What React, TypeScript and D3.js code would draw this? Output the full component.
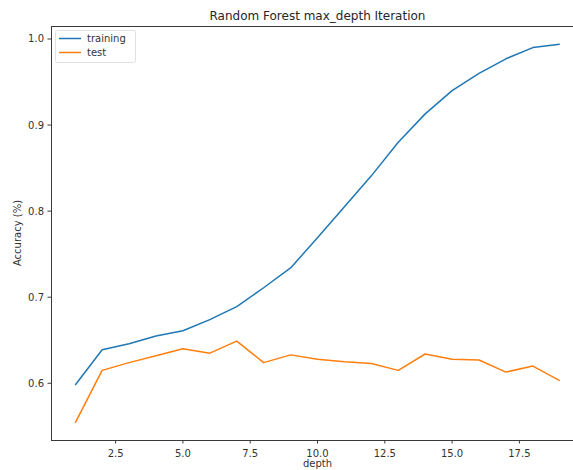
import { useEffect, useRef } from "react";
import * as d3 from "d3";

const depths = [1, 2, 3, 4, 5, 6, 7, 8, 9, 10, 11, 12, 13, 14, 15, 16, 17, 18, 19];
const training = [
  0.598, 0.639, 0.646, 0.655, 0.661, 0.674, 0.689, 0.711, 0.734, 0.769, 0.805, 0.841, 0.88,
  0.913, 0.94, 0.96, 0.977, 0.99, 0.994,
];
const test = [
  0.554, 0.615, 0.624, 0.632, 0.64, 0.635, 0.649, 0.624, 0.633, 0.628, 0.625, 0.623, 0.615,
  0.634, 0.628, 0.627, 0.613, 0.62, 0.603,
];
const xTicks = [2.5, 5.0, 7.5, 10.0, 12.5, 15.0, 17.5];
const yTicks = [0.6, 0.7, 0.8, 0.9, 1.0];
const series = [
  { name: "training", values: training, color: "#1f77b4" },
  { name: "test", values: test, color: "#ff7f0e" },
];

const W = 573;
const H = 470;
const FONT = "DejaVu Sans, sans-serif";

export default function App() {
  const ref = useRef<SVGSVGElement | null>(null);

  useEffect(() => {
    document.body.style.margin = "0";
    const svg = d3.select(ref.current!);
    svg.selectAll("*").remove();

    const left = 51, right = 584, top = 26, bottom = 440;
    const x = d3.scaleLinear().domain([0.1, 19.9]).range([left, right]);
    const y = d3.scaleLinear().domain([0.5341, 1.0151]).range([bottom, top]);

    svg.append("rect").attr("width", W).attr("height", H).attr("fill", "#fff");

    const line = d3
      .line<number>()
      .x((_, i) => x(depths[i]))
      .y((d) => y(d));

    const clip = svg.append("clipPath").attr("id", "plot");
    clip.append("rect").attr("x", left).attr("y", top).attr("width", right - left).attr("height", bottom - top);

    svg
      .append("g")
      .attr("clip-path", "url(#plot)")
      .selectAll("path")
      .data(series)
      .join("path")
      .attr("d", (d) => line(d.values))
      .attr("fill", "none")
      .attr("stroke", (d) => d.color)
      .attr("stroke-width", 1.5)
      .attr("stroke-linejoin", "round");

    // spines
    const spine = svg.append("g").attr("stroke", "#3a3a3a").attr("stroke-width", 1).attr("fill", "none");
    spine.append("rect").attr("x", left + 0.5).attr("y", top + 0.5).attr("width", right - left).attr("height", bottom - top);

    // x ticks
    const xg = svg.append("g");
    xTicks.forEach((t) => {
      xg.append("line")
        .attr("x1", x(t)).attr("x2", x(t))
        .attr("y1", bottom).attr("y2", bottom + 3.5)
        .attr("stroke", "#3a3a3a");
      xg.append("text")
        .attr("x", x(t))
        .attr("y", bottom + 17)
        .attr("text-anchor", "middle")
        .style("font", `10px ${FONT}`)
        .style("fill", "#333")
        .text(t.toFixed(1));
    });

    // y ticks
    const yg = svg.append("g");
    yTicks.forEach((t) => {
      yg.append("line")
        .attr("x1", left - 3.5).attr("x2", left)
        .attr("y1", y(t)).attr("y2", y(t))
        .attr("stroke", "#3a3a3a");
      yg.append("text")
        .attr("x", left - 7)
        .attr("y", y(t))
        .attr("dy", "0.35em")
        .attr("text-anchor", "end")
        .style("font", `10px ${FONT}`)
        .style("fill", "#333")
        .text(t.toFixed(1));
    });

    svg.append("text")
      .attr("x", (left + right) / 2)
      .attr("y", 20)
      .attr("text-anchor", "middle")
      .style("font", `12px ${FONT}`)
      .style("fill", "#262626")
      .text("Random Forest max_depth Iteration");

    svg.append("text")
      .attr("x", (left + right) / 2)
      .attr("y", 467)
      .attr("text-anchor", "middle")
      .style("font", `10px ${FONT}`)
      .style("fill", "#333")
      .text("depth");

    svg.append("text")
      .attr("transform", `translate(21,${(top + bottom) / 2}) rotate(-90)`)
      .attr("text-anchor", "middle")
      .style("font", `10px ${FONT}`)
      .style("fill", "#333")
      .text("Accuracy (%)");

    // legend
    const lg = svg.append("g");
    lg.append("rect")
      .attr("x", 55.5).attr("y", 30.5)
      .attr("width", 80).attr("height", 32)
      .attr("rx", 2)
      .attr("fill", "#fff").attr("fill-opacity", 0.8)
      .attr("stroke", "#e0e0e0");
    series.forEach((s, i) => {
      const ly = 38.5 + i * 14;
      lg.append("line")
        .attr("x1", 59).attr("x2", 81)
        .attr("y1", ly).attr("y2", ly)
        .attr("stroke", s.color).attr("stroke-width", 1.5);
      lg.append("text")
        .attr("x", 87)
        .attr("y", ly)
        .attr("dy", "0.35em")
        .style("font", `10px ${FONT}`)
        .style("fill", "#333")
        .text(s.name);
    });
  }, []);

  return <svg ref={ref} width={W} height={H} style={{ display: "block" }} />;
}
